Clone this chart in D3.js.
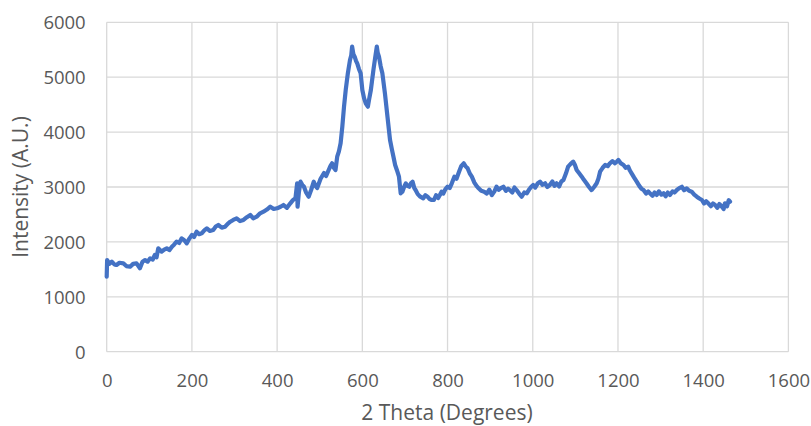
<!DOCTYPE html>
<html><head><meta charset="utf-8">
<script src="https://cdn.jsdelivr.net/npm/d3@7"></script>
<style>
body{margin:0;background:#fff;}
text{font-family:"Open Sans",sans-serif;fill:#595959;}
</style></head>
<body><svg id="c" width="811" height="426"></svg>
<script>
const twoTheta = [0,1,6,12,18,23,30,39,46,55,62,70,78,84,90,96,102,108,113,117,121,129,135,141,147,153,158,164,170,176,182,188,194,200,205,211,217,223,229,235,242,250,256,262,270,278,284,290,297,305,313,321,329,337,344,352,360,368,376,384,392,400,408,415,423,431,437,443,447,448,451,455,459,463,468,474,480,486,490,494,502,510,515,521,525,529,533,537,541,545,549,553,557,561,566,571,574,576,579,582,585,588,592,596,600,604,608,613,616,620,623,626,630,634,636,639,643,647,653,659,665,669,673,677,681,686,690,694,698,702,706,710,714,718,722,725,730,736,743,748,753,758,763,768,773,778,782,786,790,795,800,805,810,816,821,827,832,838,842,847,852,857,863,868,873,879,886,892,898,904,910,915,920,925,931,937,942,946,952,957,962,968,974,980,986,992,996,1001,1006,1012,1017,1023,1029,1034,1040,1046,1051,1056,1062,1067,1072,1078,1083,1089,1095,1099,1103,1109,1115,1120,1126,1132,1138,1144,1150,1154,1158,1164,1170,1176,1181,1187,1193,1197,1201,1207,1213,1218,1224,1228,1232,1238,1244,1250,1255,1260,1266,1271,1275,1281,1286,1291,1296,1302,1307,1312,1317,1322,1328,1333,1338,1344,1350,1355,1361,1367,1373,1379,1385,1391,1397,1402,1407,1412,1418,1423,1428,1433,1438,1444,1448,1451,1456,1460,1463];
const intensity = [1366,1670,1600,1640,1590,1579,1620,1610,1560,1548,1600,1610,1519,1640,1670,1640,1701,1680,1761,1720,1883,1822,1860,1883,1850,1913,1950,2004,1980,2065,2030,1974,2060,2126,2090,2186,2140,2156,2210,2247,2200,2217,2280,2308,2260,2277,2330,2368,2400,2429,2380,2399,2450,2490,2430,2459,2520,2550,2590,2641,2600,2612,2640,2672,2620,2703,2760,2794,3067,2641,2900,3097,3040,3005,2900,2823,2950,3097,3020,2981,3150,3255,3200,3310,3380,3432,3350,3310,3552,3650,3796,4098,4463,4767,5071,5313,5400,5556,5420,5374,5300,5253,5150,5071,4767,4620,4524,4463,4600,4767,4950,5131,5350,5556,5450,5374,5200,5071,4706,4281,3856,3700,3552,3400,3310,3188,2885,2914,3000,3067,3020,3005,3067,3097,2980,2945,2870,2823,2794,2850,2823,2780,2763,2763,2850,2800,2854,2914,2880,2960,3005,2980,3067,3188,3150,3279,3380,3432,3380,3341,3250,3188,3080,3020,2976,2930,2914,2880,2950,2854,2920,3005,2950,2980,3005,2930,2970,2945,2900,2990,2945,2880,2823,2900,2885,2960,3000,3036,2990,3070,3097,3040,3067,3000,3036,3100,3020,3067,3010,3100,3128,3250,3370,3420,3461,3400,3310,3250,3188,3130,3067,3000,2945,3000,3067,3150,3279,3350,3401,3380,3432,3470,3432,3460,3492,3430,3401,3350,3370,3300,3249,3170,3097,3020,2970,2945,2880,2920,2885,2840,2900,2854,2920,2860,2885,2830,2900,2854,2920,2900,2945,2980,3005,2940,2976,2930,2914,2860,2823,2790,2763,2700,2740,2703,2650,2700,2672,2620,2690,2641,2600,2703,2650,2760,2733];
const xTicks = [0,200,400,600,800,1000,1200,1400,1600];
const yTicks = [0,1000,2000,3000,4000,5000,6000];
const xTitle = "2 Theta (Degrees)";
const yTitle = "Intensity (A.U.)";

const svg = d3.select("#c");
const L = 106.7, R = 788.4, T = 22.3, B = 351.7;
const x = d3.scaleLinear().domain([0,1600]).range([L,R]);
const y = d3.scaleLinear().domain([0,6000]).range([B,T]);
const fmt = d3.format("d");

svg.append("g").selectAll("line").data(yTicks).join("line")
  .attr("x1",L).attr("x2",R).attr("y1",d=>y(d)).attr("y2",d=>y(d))
  .attr("stroke","#d9d9d9").attr("stroke-width",1.3);
svg.append("g").selectAll("line").data(xTicks).join("line")
  .attr("y1",T).attr("y2",B).attr("x1",d=>x(d)).attr("x2",d=>x(d))
  .attr("stroke","#d9d9d9").attr("stroke-width",1.3);

const yAxis = svg.append("g").attr("transform",`translate(${L-8},0)`)
  .call(d3.axisLeft(y).tickValues(yTicks).tickFormat(fmt).tickSize(0).tickPadding(13));
yAxis.select(".domain").remove();
yAxis.selectAll("text").attr("font-size",18.5).attr("fill","#595959")
  .style("font-family","'Open Sans', sans-serif").attr("dy","0.35em");

const xAxis = svg.append("g").attr("transform",`translate(0,${B})`)
  .call(d3.axisBottom(x).tickValues(xTicks).tickFormat(fmt).tickSize(0).tickPadding(35));
xAxis.select(".domain").remove();
xAxis.selectAll("text").attr("font-size",18.5).attr("fill","#595959")
  .style("font-family","'Open Sans', sans-serif").attr("dy","0");

const data = twoTheta.map((d,i)=>({x:d,y:intensity[i]}));
svg.append("path").datum(data)
  .attr("fill","none").attr("stroke","#4472C4").attr("stroke-width",4.2)
  .attr("stroke-linejoin","round").attr("stroke-linecap","round")
  .attr("d", d3.line().x(d=>x(d.x)).y(d=>y(d.y)));

svg.append("text").attr("x",447).attr("y",414).attr("text-anchor","middle")
  .attr("dominant-baseline","middle").attr("font-size",21).text(xTitle);
svg.append("text").attr("transform",`translate(22,${(T+B)/2}) rotate(-90)`)
  .attr("text-anchor","middle").attr("dominant-baseline","middle")
  .attr("font-size",21).text(yTitle);
</script>
</body></html>
